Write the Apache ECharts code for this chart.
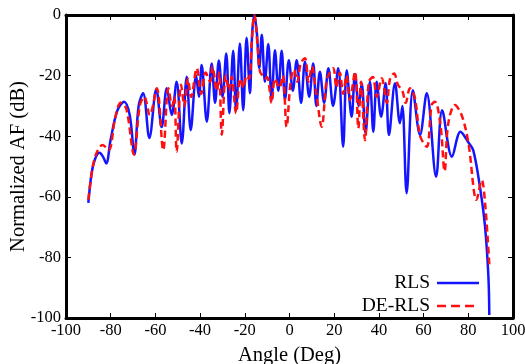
<!DOCTYPE html>
<html>
<head>
<meta charset="utf-8">
<script src="https://cdn.jsdelivr.net/npm/echarts@6/dist/echarts.min.js"></script>
<style>
html,body{margin:0;padding:0;background:#fff;}
#chart{width:525px;height:364px;}
</style>
</head>
<body>
<div id="chart"></div>
<script>
var xTicks = [-100, -80, -60, -40, -20, 0, 20, 40, 60, 80, 100];
var yTicks = [-100, -80, -60, -40, -20, 0];

var rlsAngles = [-90,-88.5,-87,-85,-83.3,-82,-80,-77,-74,-71.5,-69.4,-67.5,-65.5,-62.7,-59.6,-57.2,-54.9,-52.7,-50.5,-48.2,-46,-44.2,-41.8,-40.5,-39.3,-37,-34.8,-33.3,-31.6,-30,-28.3,-26.9,-25.2,-23.9,-22.2,-20.7,-19.2,-17.7,-16.7,-15.7,-14.6,-13.5,-12.4,-11,-9.5,-8,-6.5,-5,-3.5,-2,-0.3,1.5,3.2,5.2,6.9,8.8,10.6,12,13.6,15.5,17.4,19.5,21.8,24,25.6,27.8,29.3,31,32.3,34,36,37.5,39,41,43,44.5,47.2,49.4,50.5,52.4,55.2,58.4,61.4,65.6,68.3,72.7,76.5,80,82.2,85.2,87.5,89,89.4];
var rlsValues = [-62,-52,-47.5,-45.5,-47,-49,-41,-31.5,-28.6,-33,-46,-30,-25.8,-40.6,-24.5,-37,-24.2,-33,-22,-42.4,-20.4,-38,-20,-27,-16.5,-35.2,-16,-29,-15,-27,-12.7,-32.4,-11.8,-31.4,-9.4,-31.4,-7.5,-25.8,-6,0,-6,-17.5,-6.5,-22,-9.6,-28,-11.6,-25,-11.8,-28,-14.9,-25,-14.9,-29,-15.4,-27,-16,-30,-18.7,-29,-17.6,-30,-17.6,-43.5,-18.2,-33.6,-19.5,-30,-22.5,-39,-22,-38.5,-22,-33.6,-22.5,-39.6,-22.5,-35.7,-30,-58.8,-24.8,-39.6,-25.8,-53.4,-31.4,-46.8,-38.5,-42,-44.6,-56.7,-69.9,-86.4,-99];

var derlsAngles = [-90,-88,-86,-83.6,-80.9,-78,-75.5,-73,-69.6,-67,-65,-62.5,-59.4,-56.5,-54.2,-52.5,-51.5,-50.5,-48.5,-47,-45.5,-44,-41.5,-39.5,-37.5,-35.5,-34.5,-32.5,-31.5,-30.3,-28.5,-27,-25.9,-23.9,-22,-20.5,-19.2,-18,-17,-15.7,-14.3,-13.2,-12,-11,-10,-8,-6.5,-4.5,-3,-1.3,0.5,2,3.5,5,6.9,8.5,10,12,14.4,16.5,18,19.6,21,22.5,24,25.5,27,29.3,30.8,32,33.8,35.5,37.3,39,41.3,43.5,45,46.8,48.5,50.5,52,53.9,56,58.5,61.4,63.6,65.1,67.5,69.4,71,74,77,80,83.7,86,87.5,89.4];
var derlsValues = [-61,-50,-45,-42.9,-44.6,-34,-29,-31,-46,-30,-27,-33,-24.2,-44.6,-24.2,-30,-27,-45.1,-23,-30,-21,-27,-17.6,-26,-19,-22,-17,-25,-19,-39.5,-20,-25,-20.4,-32.4,-21,-24,-20,-21,-10,0,-10,-18.7,-20,-21,-20.5,-29,-21,-24,-20,-36.9,-22,-18,-22,-16,-14.3,-22,-17,-26,-36.9,-22,-19,-17.6,-24,-19,-26,-20,-28,-18.7,-37.4,-22,-41.3,-22,-20.5,-27,-20.9,-29,-21,-19.3,-23,-25,-29,-24.2,-27,-40,-43.5,-29.7,-28.6,-36,-51.5,-36,-29.7,-33,-42,-61,-54.5,-62,-82.5];

function zip(a, b) { return a.map(function (v, i) { return [v, b[i]]; }); }

var serif = '"Liberation Serif", "DejaVu Serif", serif';
var chart = echarts.init(document.getElementById('chart'), null, {renderer: 'canvas'});
var axisLineStyle = {show: true, onZero: false, lineStyle: {color: '#000', width: 3}};
var tickStyle = {show: true, inside: true, length: 5, lineStyle: {color: '#000', width: 1}};

chart.setOption({
  animation: false,
  backgroundColor: '#fff',
  grid: {left: 66, right: 12, top: 15, bottom: 46, containLabel: false, outerBoundsMode: 'none'},
  legend: {
    data: [
      {name: 'RLS', icon: 'path://M0,0h42v2.5h-42z', itemStyle: {color: '#1414ff'}},
      {name: 'DE-RLS', icon: 'path://M0,0h9v2.5h-9z M14,0h9v2.5h-9z M28,0h9v2.5h-9z M42,0h0v2.5h0z', itemStyle: {color: '#ff1010'}}
    ],
    orient: 'vertical',
    align: 'right',
    right: 46,
    bottom: 48,
    padding: 0,
    itemGap: 3,
    itemWidth: 42,
    itemHeight: 2.5,
    textStyle: {fontFamily: serif, fontSize: 19.5, color: '#000', padding: [0, 2, 0, 0]}
  },
  xAxis: [{
    type: 'value', min: xTicks[0], max: xTicks[xTicks.length - 1], interval: 20,
    name: 'Angle (Deg)', nameLocation: 'middle', nameGap: 27, nameMoveOverlap: false,
    nameTextStyle: {fontFamily: serif, fontSize: 20.5, color: '#000'},
    axisLine: axisLineStyle, axisTick: tickStyle,
    axisLabel: {fontFamily: serif, fontSize: 16.5, color: '#000', margin: 4},
    splitLine: {show: false}
  }, {
    type: 'value', position: 'top', min: xTicks[0], max: xTicks[xTicks.length - 1], interval: 20,
    axisLine: axisLineStyle, axisTick: tickStyle, axisLabel: {show: false}, splitLine: {show: false}
  }],
  yAxis: [{
    type: 'value', min: yTicks[0], max: yTicks[yTicks.length - 1], interval: 20,
    name: 'Normalized AF (dB)', nameLocation: 'middle', nameGap: 37, nameRotate: 90, nameMoveOverlap: false,
    nameTextStyle: {fontFamily: serif, fontSize: 20.5, color: '#000'},
    axisLine: axisLineStyle, axisTick: tickStyle,
    axisLabel: {fontFamily: serif, fontSize: 16.5, color: '#000', margin: 5},
    splitLine: {show: false}
  }, {
    type: 'value', position: 'right', min: yTicks[0], max: yTicks[yTicks.length - 1], interval: 20,
    axisLine: axisLineStyle, axisTick: tickStyle, axisLabel: {show: false}, splitLine: {show: false}
  }],
  series: [{
    name: 'RLS', type: 'line', data: zip(rlsAngles, rlsValues),
    smooth: 0.35, showSymbol: false, symbol: 'none',
    lineStyle: {color: '#1414ff', width: 2.5},
    itemStyle: {color: '#1414ff'}, z: 3
  }, {
    name: 'DE-RLS', type: 'line', data: zip(derlsAngles, derlsValues),
    smooth: 0.35, showSymbol: false, symbol: 'none',
    lineStyle: {color: '#ff1010', width: 2.5, type: [7, 4]},
    itemStyle: {color: '#ff1010'}, z: 4
  }]
});
</script>
</body>
</html>
